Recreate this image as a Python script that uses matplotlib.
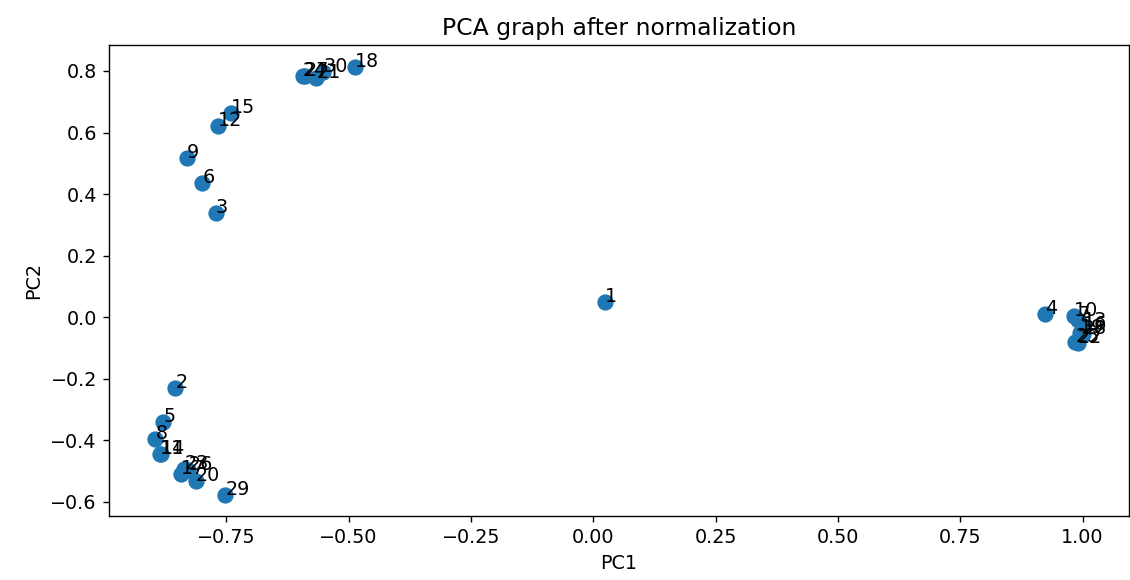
import numpy as np
import pandas as pd
import matplotlib
matplotlib.use("Agg")
import matplotlib.pyplot as plt


# PCA coordinates, one entry per sample id
ids = list(range(1, 31))
pc1 = [0.024, -0.854, -0.772, 0.923, -0.879, -0.799, 0.990, -0.895, -0.830, 0.983,
       -0.885, -0.768, 1.000, -0.883, -0.740, 1.000, -0.842, -0.487, 0.995, -0.813,
       -0.566, 0.990, -0.836, -0.594, 0.985, -0.828, -0.590, 1.000, -0.752, -0.552]
pc2 = [0.048, -0.229, 0.337, 0.010, -0.340, 0.436, -0.010, -0.396, 0.518, 0.003,
       -0.443, 0.620, -0.030, -0.446, 0.663, -0.040, -0.511, 0.814, -0.050, -0.531,
       0.776, -0.085, -0.492, 0.782, -0.080, -0.498, 0.785, -0.055, -0.577, 0.795]

df = pd.DataFrame({"id": ids, "PC1": pc1, "PC2": pc2})

plt.rcParams["font.size"] = 11
fig = plt.figure(figsize=(9.04, 4.64), dpi=125)
ax = fig.add_axes([0.0965, 0.110, 0.9025, 0.812])

ax.scatter(df["PC1"], df["PC2"], s=70, color="#1f77b4")
for i in range(len(df)):
    ax.annotate(str(df["id"].iloc[i]), (df["PC1"].iloc[i], df["PC2"].iloc[i]))

ax.set_title("PCA graph after normalization", fontsize=13.5)
ax.set_xlabel("PC1")
ax.set_ylabel("PC2")

fig.savefig("out.png", dpi=125)
